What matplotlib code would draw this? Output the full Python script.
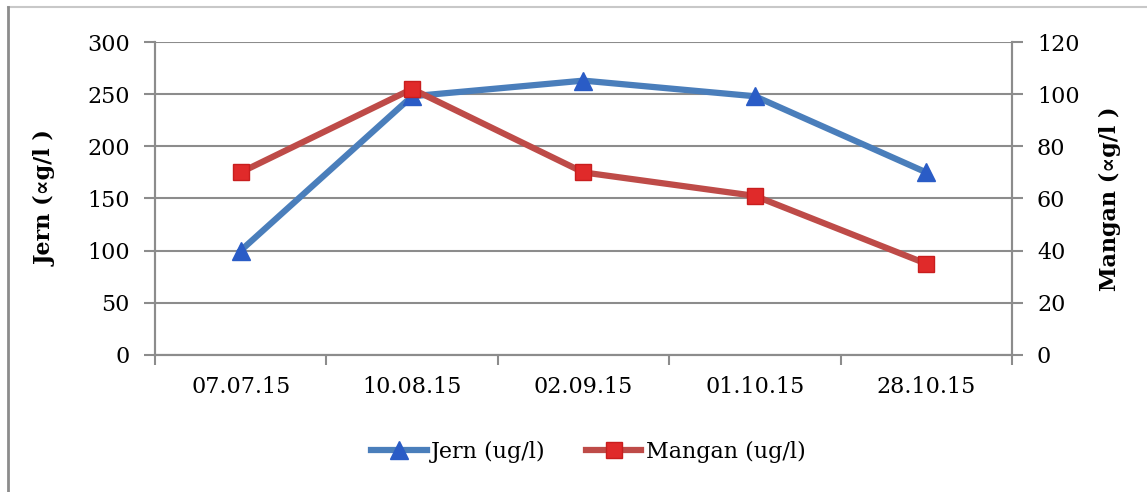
import matplotlib.pyplot as plt
from matplotlib.lines import Line2D

dates = ["07.07.15", "10.08.15", "02.09.15", "01.10.15", "28.10.15"]
jern = [100, 248, 263, 248, 175]
mangan = [70, 102, 70, 61, 35]

jern_ticks = [0, 50, 100, 150, 200, 250, 300]
mangan_ticks = [0, 20, 40, 60, 80, 100, 120]

BLUE_LINE = "#4a7ebb"
BLUE_MARK = "#2a5cc6"
RED_LINE = "#be4b48"
RED_MARK = "#e02a2a"
GRID = "#8c8c8c"

plt.rcParams["font.family"] = "DejaVu Serif"
plt.rcParams["font.size"] = 16

fig = plt.figure(figsize=(11.47, 4.92), dpi=100)
ax = fig.add_axes([0.1351, 0.2785, 0.7472, 0.6361])
ax2 = ax.twinx()

x = range(len(dates))
ax.plot(x, jern, color=BLUE_LINE, lw=4.5, marker="^", ms=13,
        mfc=BLUE_MARK, mec=BLUE_MARK, zorder=3)
ax2.plot(x, mangan, color=RED_LINE, lw=4.5, marker="s", ms=12,
         mfc=RED_MARK, mec="#c81e1e", zorder=3)

ax.set_xlim(-0.5, len(dates) - 0.5)
ax.set_ylim(0, 300)
ax2.set_ylim(0, 120)
ax.set_yticks(jern_ticks)
ax2.set_yticks(mangan_ticks)

# category labels centred, tick marks on the boundaries between categories
ax.set_xticks(list(x))
ax.set_xticklabels(dates)
ax.set_xticks([i - 0.5 for i in range(len(dates) + 1)], minor=True)
ax.tick_params(axis="x", which="major", length=0, pad=15)
ax.tick_params(axis="x", which="minor", length=7, width=1.5, color=GRID)

ax.tick_params(axis="y", length=8, width=1.5, color=GRID, pad=10)
ax2.tick_params(axis="y", length=8, width=1.5, color=GRID, pad=10)

ax.grid(axis="y", color=GRID, lw=1.5)
ax.set_axisbelow(True)

for a in (ax, ax2):
    a.spines["top"].set_visible(False)
    for side in ("left", "right", "bottom"):
        a.spines[side].set_color(GRID)
        a.spines[side].set_linewidth(1.5)

ax.set_ylabel("Jern (\u221dg/l )", fontweight="bold", fontsize=16, labelpad=22)
ax2.set_ylabel("Mangan (\u221dg/l )", fontweight="bold", fontsize=16, labelpad=14)

handles = [
    Line2D([], [], color=BLUE_LINE, lw=4.5, marker="^", ms=13,
           mfc=BLUE_MARK, mec=BLUE_MARK),
    Line2D([], [], color=RED_LINE, lw=4.5, marker="s", ms=12,
           mfc=RED_MARK, mec="#c81e1e"),
]
fig.legend(handles, ["Jern (ug/l)", "Mangan (ug/l)"], loc="center",
           bbox_to_anchor=(0.513, 0.082), ncol=2, frameon=False,
           handlelength=2.5, handletextpad=0.2, columnspacing=1.8,
           fontsize=16)

# outer chart frame (top and left edges)
fig.add_artist(Line2D([0.007, 1.0], [0.986, 0.986], color="#c8c8c8", lw=1.5))
fig.add_artist(Line2D([0.007, 0.007], [0.0, 0.986], color="#8c8c8c", lw=2))

fig.savefig("out.png", dpi=100)
